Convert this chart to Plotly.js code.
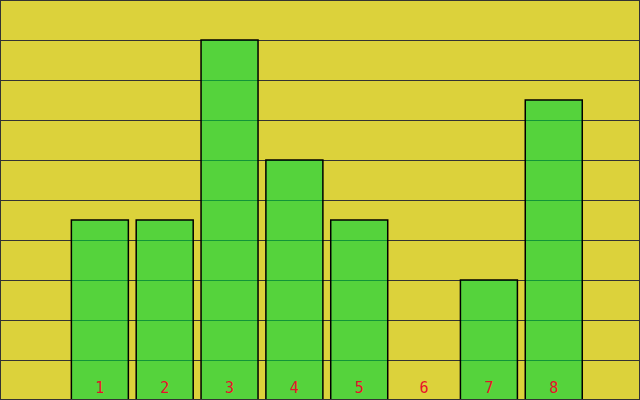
<!DOCTYPE html>
<html>
<head>
<meta charset="utf-8">
<script src="https://cdn.plot.ly/plotly-3.0.1.min.js"></script>
<style>html,body{margin:0;padding:0;background:#DCD23B;}</style>
</head>
<body>
<div id="chart" style="width:640px;height:400px;"></div>
<script>
const categories = [1, 2, 3, 4, 5, 6, 7, 8];
const tickLabels = ["1", "2", "3", "4", "5", "6", "7", "8"];
const values = [4.5, 4.5, 9, 6, 4.5, 0, 3, 7.5];

const trace = {
  type: 'bar',
  x: categories,
  y: values,
  marker: {
    color: 'rgba(0,211,62,0.615)',
    line: {color: '#000000', width: 1.5}
  },
  hoverinfo: 'none'
};

const layout = {
  width: 640,
  height: 400,
  margin: {l: 0, r: 0, t: 0, b: 0, pad: 0},
  paper_bgcolor: '#DCD23B',
  plot_bgcolor: '#DCD23B',
  showlegend: false,
  bargap: 0.121,
  xaxis: {
    range: [-0.54, 9.33],
    tickmode: 'array',
    tickvals: categories,
    ticktext: tickLabels,
    ticks: '',
    ticklabelposition: 'inside',
    ticklabelstandoff: 1,
    tickfont: {family: 'DejaVu Sans Mono', size: 15, color: '#E8102A'},
    showgrid: false,
    zeroline: false,
    showline: false,
    layer: 'above traces'
  },
  yaxis: {
    range: [0, 10],
    dtick: 1,
    showticklabels: false,
    ticks: '',
    showgrid: true,
    gridcolor: '#333333',
    gridwidth: 1,
    zeroline: false,
    showline: false
  },
  shapes: [{
    type: 'rect', xref: 'paper', yref: 'paper',
    x0: 0, x1: 1, y0: 0, y1: 1,
    line: {color: '#333333', width: 2},
    fillcolor: 'rgba(0,0,0,0)',
    layer: 'above'
  }]
};

Plotly.newPlot('chart', [trace], layout, {displayModeBar: false, staticPlot: true});
</script>
</body>
</html>
